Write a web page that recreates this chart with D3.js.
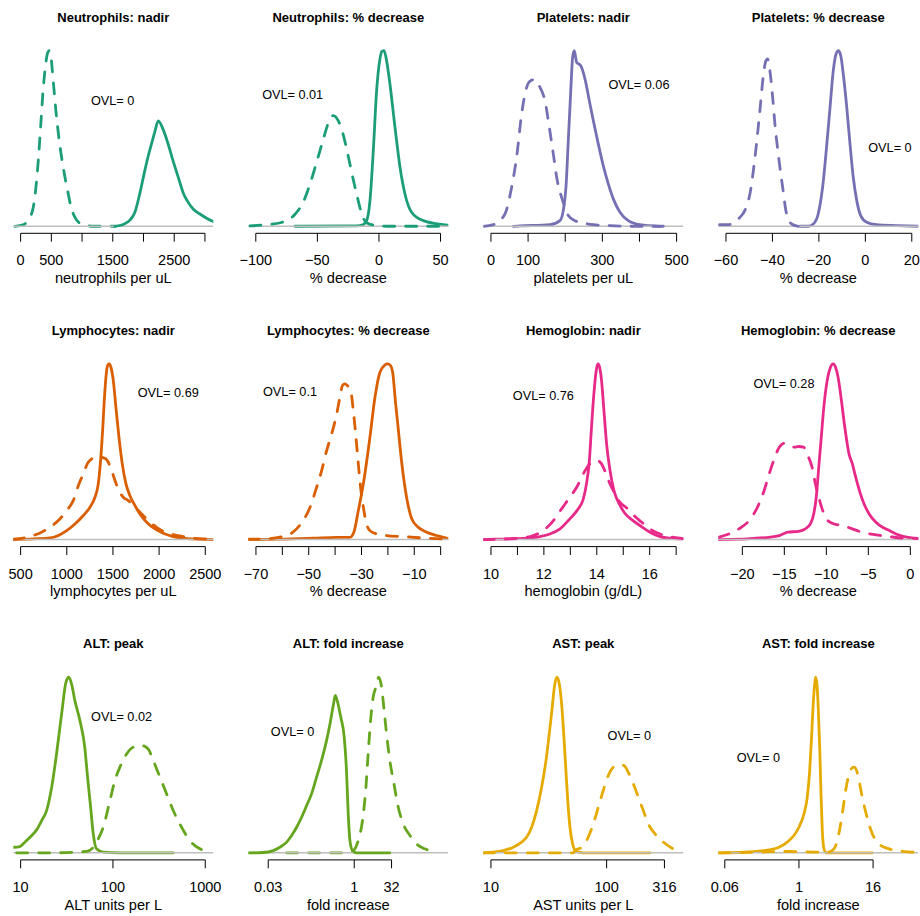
<!DOCTYPE html>
<html><head><meta charset="utf-8">
<script src="https://cdn.jsdelivr.net/npm/d3@7"></script>
<style>body{margin:0;background:#fff}svg{display:block}text{font-family:"Liberation Sans",Arial,Helvetica,sans-serif}</style>
</head><body>
<svg id="chart" width="920" height="916"></svg>
<script>
// ---------- DATA ----------
const panelTitles = ["Neutrophils: nadir","Neutrophils: % decrease","Platelets: nadir","Platelets: % decrease",
  "Lymphocytes: nadir","Lymphocytes: % decrease","Hemoglobin: nadir","Hemoglobin: % decrease",
  "ALT: peak","ALT: fold increase","AST: peak","AST: fold increase"];
const xLabels = ["neutrophils per uL","% decrease","platelets per uL","% decrease",
  "lymphocytes per uL","% decrease","hemoglobin (g/dL)","% decrease",
  "ALT units per L","fold increase","AST units per L","fold increase"];
const ovlLabels = ["OVL= 0","OVL= 0.01","OVL= 0.06","OVL= 0","OVL= 0.69","OVL= 0.1","OVL= 0.76","OVL= 0.28","OVL= 0.02","OVL= 0","OVL= 0","OVL= 0"];
const panelColors = ["#1B9E77","#1B9E77","#7570B3","#7570B3","#D95F02","#D95F02","#E7298A","#E7298A","#66A61E","#66A61E","#E6AB02","#E6AB02"];
const logPanels = [false,false,false,false,false,false,false,false,true,true,true,true];
const xLimits = [[-119,3136],[-106.1,56.3],[-20.6,518],[-63.3,22.8],[420.6,2587],[-72.9,2.9],[9.71,17.27],[-22.86,0.95],
  [8.33,1222],[0.014,44.3],[8.59,460],[0.049,86.8]];
const tickValues = [[0,500,1000,1500,2000,2500,3000],[-100,-50,0,50],[0,100,200,300,400,500],[-60,-40,-20,0,20],
  [500,1000,1500,2000,2500],[-70,-60,-50,-40,-30,-20,-10,0],[10,11,12,13,14,15,16,17],[-20,-15,-10,-5,0],
  [10,100,1000],[0.03125,1,4.5],[10,100,316],[0.0625,1,16]];
const tickLabels = [["0","500","","1500","","2500",""],["−100","−50","0","50"],["0","100","","300","","500"],["−60","−40","−20","0","20"],
  ["500","1000","1500","2000","2500"],["−70","","−50","","−30","","−10",""],["10","","12","","14","","16",""],["−20","−15","−10","−5","0"],
  ["10","100","1000"],["0.03","1","32"],["10","100","316"],["0.06","1","16"]];
// OVL annotation anchor: [x in data units, density as fraction of panel max]
const ovlAnchors = [[1497,.713],[-70.1,.748],[398.6,.805],[10.6,.45],[2099,.839],[-57.1,.843],[11.98,.82],[-15.04,.89],
  [124,.776],[0.0832,.69],[157,.668],[0.219,.545]];

// density curves: [x, relative density]
const neutNadirSolid = [[1535,0],[1670,.01],[1779,.035],[1860,.08],[1942,.19],[2023,.32],[2077,.4],[2131,.47],[2186,.54],[2240,.6],[2321,.55],[2402,.467],[2484,.37],[2565,.28],[2647,.19],[2728,.136],[2809,.098],[2918,.07],[3118,.03],[3200,.02]];
const neutNadirDashed = [[-92,0],[43,.009],[152,.051],[206,.108],[249,.221],[287,.372],[325,.561],[369,.788],[407,.921],[439,.987],[466,1],[499,.949],[531,.826],[575,.656],[629,.486],[694,.335],[765,.202],[830,.098],[911,.036],[1020,.009],[1182,0],[1535,0]];
const neutDecSolid = [[-68.2,0],[-18,.002],[-12.7,.01],[-10,.032],[-7.3,.146],[-4.6,.431],[-1.9,.772],[0.8,.953],[2.4,.996],[4.1,1],[6.2,.943],[8.9,.81],[13,.564],[17.1,.336],[21.1,.184],[26.5,.08],[36,.032],[52.2,.009],[57.6,.004]];
const neutDecDashed = [[-104.8,.002],[-94,.008],[-80,.02],[-68,.07],[-62,.13],[-56,.24],[-50,.38],[-45,.5],[-41,.59],[-37,.63],[-33,.6],[-29,.52],[-25,.4],[-21,.27],[-17,.15],[-14,.07],[-10,.02],[-2,.004],[6,0],[52,0]];
const platNadirSolid = [[60,0],[78.1,.002],[158.9,.009],[185.8,.032],[194.8,.089],[202,.222],[208.3,.488],[214.5,.753],[219.9,.962],[224.4,1],[230.7,.934],[241.5,.915],[253.2,.839],[264.9,.715],[275.6,.602],[289,.469],[302.5,.345],[316,.241],[329.5,.156],[347.4,.08],[369.9,.032],[401.3,.009],[455.1,0]];
const platNadirDashed = [[-20.6,0],[6.3,.009],[37.7,.07],[55.7,.222],[69.1,.393],[82.6,.639],[96.1,.791],[106.8,.829],[118.5,.835],[132,.791],[145.4,.715],[157.1,.564],[167.9,.412],[178.6,.26],[190.3,.165],[199.3,.108],[208.3,.061],[226.2,.032],[248.7,.019],[275.6,.009],[320.5,.004],[365.4,0],[464.1,0]];
const platDecSolid = [[-28.2,0],[-24.6,0],[-22.4,.013],[-20.3,.07],[-18.4,.222],[-16.7,.45],[-15.2,.677],[-13.8,.886],[-12.6,.981],[-11.6,1],[-10.6,.972],[-9.5,.867],[-8,.677],[-6.6,.469],[-5.2,.279],[-3.7,.146],[-2,.061],[0.6,.023],[4.9,.009],[13.5,.004],[22.8,0]];
const platDecDashed = [[-62.9,.009],[-59,.009],[-54,.051],[-51.9,.089],[-49.7,.184],[-47.5,.393],[-45.4,.658],[-44,.848],[-42.8,.943],[-42.1,.953],[-41.1,.886],[-39.9,.734],[-38.8,.564],[-37.5,.412],[-35.6,.222],[-33.9,.07],[-31.7,.013],[-28.9,0]];
const lymphNadirSolid = [[420.6,0],[637,.004],[818,.009],[926,.028],[998,.051],[1088,.089],[1179,.137],[1251,.184],[1305,.241],[1341,.317],[1366,.45],[1388,.62],[1406,.791],[1424,.924],[1442,.991],[1460,1],[1478,.981],[1504,.905],[1532,.753],[1565,.583],[1601,.431],[1641,.317],[1684,.25],[1738,.194],[1792,.146],[1865,.099],[1955,.061],[2045,.036],[2153,.017],[2298,.006],[2442,.002],[2587,0]];
const lymphNadirDashed = [[420.6,.002],[529,.008],[637,.023],[727,.042],[818,.07],[908,.108],[998,.165],[1070,.222],[1132,.317],[1179,.374],[1222,.431],[1269,.459],[1323,.478],[1377,.469],[1424,.459],[1449,.44],[1486,.393],[1522,.336],[1565,.279],[1612,.241],[1666,.222],[1720,.194],[1774,.165],[1828,.137],[1901,.099],[1973,.07],[2045,.047],[2153,.028],[2262,.017],[2370,.008],[2478,.004],[2587,.002]];
const lymphDecSolid = [[-72.9,0],[-60.9,.002],[-48.3,.008],[-39.4,.013],[-34.4,.013],[-32.9,.042],[-31.2,.165],[-29.3,.317],[-26.8,.583],[-24.9,.81],[-23,.953],[-21.1,.994],[-20.2,1],[-19.2,.994],[-18.2,.953],[-17.1,.78],[-16,.62],[-15.2,.5],[-14.2,.37],[-12.9,.24],[-11,.12],[-8.5,.07],[-5.9,.046],[-1.5,.023],[2.9,.006]];
const lymphDecDashed = [[-72.9,.002],[-66,.004],[-57.1,.032],[-54.6,.061],[-52.1,.108],[-49.5,.184],[-47,.298],[-45.1,.393],[-43.2,.507],[-41.3,.602],[-39.4,.715],[-38.2,.81],[-37.2,.877],[-36.3,.886],[-35.4,.877],[-34.1,.848],[-33.1,.734],[-32.1,.583],[-31.2,.431],[-30.2,.279],[-29.3,.184],[-28.1,.089],[-26.8,.051],[-24.3,.032],[-20.5,.023],[-14.2,.017],[-6.6,.009],[1,.004]];
const hbNadirSolid = [[9.71,0],[10.15,.002],[10.72,.004],[11.35,.008],[11.85,.017],[12.23,.032],[12.61,.061],[12.98,.118],[13.3,.175],[13.49,.231],[13.61,.317],[13.72,.45],[13.8,.639],[13.89,.829],[13.97,.953],[14.03,.996],[14.06,1],[14.09,.99],[14.18,.905],[14.27,.734],[14.37,.545],[14.5,.393],[14.65,.279],[14.85,.203],[15.06,.15],[15.31,.115],[15.63,.08],[16.01,.042],[16.39,.017],[16.89,.006],[17.27,.004]];
const hbNadirDashed = [[9.71,0],[10.21,.002],[11.1,.008],[11.6,.023],[11.98,.051],[12.36,.108],[12.67,.175],[12.98,.241],[13.24,.298],[13.49,.374],[13.68,.421],[13.87,.446],[14.02,.45],[14.18,.431],[14.35,.374],[14.5,.317],[14.69,.26],[14.87,.213],[15.13,.18],[15.38,.14],[15.69,.1],[16.01,.06],[16.39,.032],[16.76,.017],[17.14,.008],[17.39,.004]];
const hbDecSolid = [[-22.86,0],[-20.4,.002],[-18.4,.008],[-16.8,.013],[-15.6,.023],[-14.6,.042],[-13.3,.047],[-12.5,.061],[-11.9,.089],[-11.5,.146],[-11.2,.241],[-10.9,.412],[-10.6,.583],[-10.3,.753],[-9.9,.905],[-9.5,.981],[-9.2,1],[-8.9,.981],[-8.6,.924],[-8.2,.791],[-7.8,.639],[-7.3,.488],[-6.9,.431],[-6.5,.355],[-6,.269],[-5.5,.203],[-4.9,.146],[-4.1,.099],[-3.3,.07],[-2.5,.051],[-1.7,.032],[-0.75,.017],[0.95,.006]];
const hbDecDashed = [[-22.86,.013],[-21.6,.032],[-20.4,.061],[-19.2,.108],[-18.2,.184],[-17.4,.279],[-16.8,.374],[-16.2,.459],[-15.6,.526],[-15,.548],[-14.4,.539],[-13.8,.526],[-13.3,.53],[-12.7,.526],[-12.3,.488],[-11.7,.412],[-11.3,.317],[-10.9,.241],[-10.5,.175],[-10,.118],[-9.3,.093],[-8.5,.083],[-7.7,.074],[-6.9,.061],[-6.1,.047],[-5.3,.036],[-4.1,.027],[-2.5,.017],[-1,.009],[0.95,.006]];
const altPeakSolid = [[8.3,.032],[9.8,.036],[11.1,.061],[13.2,.099],[14.9,.131],[16.9,.184],[19.1,.241],[21.7,.374],[24.5,.564],[27.8,.791],[31,.972],[33.3,1],[35.6,.962],[38.7,.867],[43.9,.753],[49.5,.602],[52.7,.45],[57.3,.26],[61.2,.108],[66.4,.023],[78.5,.004],[120,0],[450,0]];
const altPeakDashed = [[9.06,0],[20.8,0],[51.9,.008],[61.2,.032],[69.4,.08],[78.5,.146],[92.8,.298],[105,.412],[119,.488],[141,.564],[166,.602],[204,.611],[241,.592],[273,.526],[323,.431],[381,.336],[450,.241],[554,.146],[682,.07],[876,.023],[1077,.009]];
const altFoldSolid = [[0.014,0],[0.0256,.002],[0.0382,.013],[0.05,.032],[0.0656,.061],[0.0802,.099],[0.0981,.146],[0.12,.203],[0.1466,.269],[0.1792,.336],[0.2192,.431],[0.2679,.526],[0.3275,.639],[0.3763,.734],[0.4293,.839],[0.4665,.896],[0.5035,.867],[0.5824,.772],[0.669,.658],[0.732,.469],[0.785,.222],[0.841,.07],[0.933,.013],[1.102,0],[4.199,0]];
const altFoldDashed = [[0.0656,0],[0.641,0],[0.959,.013],[1.173,.07],[1.395,.184],[1.602,.374],[1.753,.564],[1.932,.753],[2.144,.886],[2.462,.953],[2.676,1],[3.011,.943],[3.294,.829],[3.681,.677],[4.199,.526],[4.959,.393],[5.897,.26],[7.21,.165],[9.45,.099],[12.3,.051],[17.27,.023],[27.66,.004]];
const astPeakSolid = [[8.59,0],[10.47,.004],[12.79,.013],[15.6,.032],[18.41,.061],[20.32,.089],[22.49,.146],[24.83,.241],[27.42,.374],[29.92,.526],[31.92,.677],[33.65,.81],[35.32,.943],[37.24,1],[38.99,.962],[40.83,.848],[42.76,.658],[44.46,.469],[46.34,.279],[48.19,.146],[50.82,.051],[54.33,.009],[62.81,0],[237,0]];
const astPeakDashed = [[8.59,0],[51.5,0],[53.2,.013],[60.8,.032],[69.3,.089],[76.7,.165],[84.7,.26],[93.5,.355],[103.3,.44],[114.3,.488],[128.8,.503],[141.3,.497],[153.8,.459],[170.2,.393],[187.9,.317],[207.5,.241],[229.1,.165],[261.8,.108],[309,.061],[376.7,.023],[416.9,.009]];
const astFoldSolid = [[0.049,0],[0.106,.002],[0.198,.008],[0.325,.017],[0.473,.032],[0.646,.061],[0.829,.099],[1,.146],[1.206,.222],[1.366,.317],[1.495,.469],[1.602,.658],[1.705,.848],[1.803,.962],[1.866,1],[1.959,.962],[2.056,.829],[2.173,.602],[2.282,.336],[2.395,.127],[2.549,.023],[2.77,0],[15.56,0]];
const astFoldDashed = [[0.05,0],[0.198,.004],[0.688,.008],[2.395,.004],[3.073,.006],[3.706,.023],[4.199,.07],[4.757,.165],[5.242,.26],[5.736,.355],[6.32,.431],[7.06,.478],[7.84,.488],[8.63,.469],[9.45,.412],[10.41,.336],[11.63,.26],[13.18,.184],[15.56,.108],[19.97,.051],[29.04,.023],[47.84,.009],[86.8,.002]];

const solidSeries = [neutNadirSolid,neutDecSolid,platNadirSolid,platDecSolid,lymphNadirSolid,lymphDecSolid,hbNadirSolid,hbDecSolid,altPeakSolid,altFoldSolid,astPeakSolid,astFoldSolid];
const dashedSeries = [neutNadirDashed,neutDecDashed,platNadirDashed,platDecDashed,lymphNadirDashed,lymphDecDashed,hbNadirDashed,hbDecDashed,altPeakDashed,altFoldDashed,astPeakDashed,astFoldDashed];

// ---------- LAYOUT ----------
const colLeft0 = 13.3, colPitch = 235, plotW = 200;
const rowTop0 = 43.6, rowPitch = 313.3, plotH = 189.7;
const lineW = 2.8;

const svg = d3.select("#chart");
svg.append("rect").attr("width",920).attr("height",916).attr("fill","#fff");

panelTitles.forEach((title, i) => {
  const r = Math.floor(i / 4), c = i % 4;
  const left = colLeft0 + c * colPitch, top = rowTop0 + r * rowPitch;
  const right = left + plotW, bottom = top + plotH;
  const col = panelColors[i];
  const x = (logPanels[i] ? d3.scaleLog() : d3.scaleLinear()).domain(xLimits[i]).range([left, right]);
  const yMax = d3.max([...solidSeries[i], ...dashedSeries[i]], d => d[1]);
  const y = d3.scaleLinear().domain([-0.04 * yMax, yMax * 1.04]).range([bottom, top]);
  const g = svg.append("g");
  const clipId = "clip" + i;
  g.append("clipPath").attr("id", clipId).append("rect")
    .attr("x", left).attr("y", top).attr("width", plotW).attr("height", plotH);
  const line = d3.line().x(d => x(d[0])).y(d => y(d[1])).curve(d3.curveMonotoneX);
  const plotG = g.append("g").attr("clip-path", `url(#${clipId})`);

  const solidMax = d3.max(solidSeries[i], d => d[1]);
  const dashedMax = d3.max(dashedSeries[i], d => d[1]);
  const series = [
    {data: solidSeries[i], dash: null, max: solidMax},
    {data: dashedSeries[i], dash: "11,11", max: dashedMax}
  ].sort((a, b) => b.max - a.max);

  const drawCurve = s => plotG.append("path").datum(s.data).attr("d", line)
    .attr("fill", "none").attr("stroke", col).attr("stroke-width", lineW)
    .attr("stroke-linecap", "round").attr("stroke-linejoin", "round")
    .attr("stroke-dasharray", s.dash);
  drawCurve(series[0]);
  plotG.append("line").attr("x1", left).attr("x2", right).attr("y1", y(0)).attr("y2", y(0))
    .attr("stroke", "#BEBEBE").attr("stroke-width", 1.5);
  drawCurve(series[1]);

  // axis
  const tv = tickValues[i];
  g.append("line").attr("x1", x(tv[0])).attr("x2", x(tv[tv.length - 1]))
    .attr("y1", bottom).attr("y2", bottom).attr("stroke", "#000").attr("stroke-width", 1);
  tv.forEach((v, k) => {
    g.append("line").attr("x1", x(v)).attr("x2", x(v)).attr("y1", bottom).attr("y2", bottom + 8.4)
      .attr("stroke", "#000").attr("stroke-width", 1);
    if (tickLabels[i][k]) {
      g.append("text").attr("x", x(v)).attr("y", bottom + 27).attr("dy", "0.35em")
        .attr("text-anchor", "middle").attr("font-size", 14.5).attr("fill", "#000").text(tickLabels[i][k]);
    }
  });
  g.append("text").attr("x", left + plotW / 2).attr("y", bottom + 44.5).attr("dy", "0.35em")
    .attr("text-anchor", "middle").attr("font-size", 14.6).attr("fill", "#000").text(xLabels[i]);
  g.append("text").attr("x", left + plotW / 2).attr("y", top - 26.5).attr("dy", "0.35em")
    .attr("text-anchor", "middle").attr("font-size", 13).attr("font-weight", "bold").attr("fill", "#000").text(title);
  g.append("text").attr("x", x(ovlAnchors[i][0])).attr("y", y(ovlAnchors[i][1] * yMax)).attr("dy", "0.35em")
    .attr("text-anchor", "middle").attr("font-size", 12.7).attr("fill", "#000").text(ovlLabels[i]);
});
</script>
</body></html>
